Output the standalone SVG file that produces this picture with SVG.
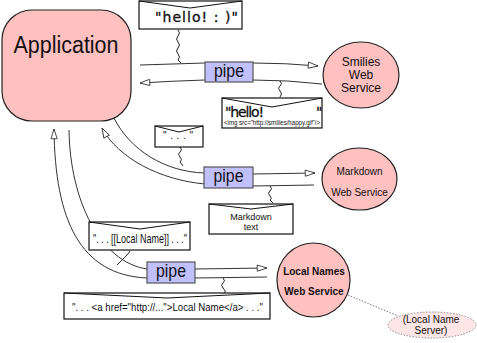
<svg xmlns="http://www.w3.org/2000/svg" width="477" height="343" viewBox="0 0 477 343">
  <style>
    .line { fill: none; stroke: #333; stroke-width: 1; }
    .wiggle { fill: none; stroke: #222; stroke-width: 1; }
    .node { fill: #ffc0c0; stroke: #222; stroke-width: 1.2; }
    .pipe rect { fill: #c0c0ff; stroke: #555; stroke-width: 1.2; }
    .pipe text { font-family: "Liberation Sans", Arial, sans-serif; font-size: 18px; fill: #111; text-anchor: middle; }
    .note rect { fill: #fff; stroke: #111; stroke-width: 1.2; }
    .note polyline { fill: none; stroke: #111; stroke-width: 1; }
    .big { font-family: "DejaVu Sans", sans-serif; font-size: 14px; fill: #111; stroke: #111; stroke-width: 0.3; }
    .small { font-family: "Liberation Sans", Arial, sans-serif; fill: #111; }
    .label { font-family: "Liberation Sans", Arial, sans-serif; fill: #111; text-anchor: middle; }
  </style>
  <defs>
    <marker id="open" markerUnits="userSpaceOnUse" markerWidth="12" markerHeight="8" refX="11" refY="3.5" orient="auto" viewBox="-1 -1 13 9">
      <path d="M0,0 L11,3.5 L0,7 z" fill="#fff" stroke="#333" stroke-width="1"/>
    </marker>
  </defs>

  <!-- connectors: each pipe is drawn as a pair of one-way lines -->
  <g id="connectors">
    <path class="line" d="M140,65 L205,63 L253,63 Q286,63 318,66" marker-end="url(#open)"/>
    <path class="line" d="M322,84 Q288,80 253,80 L205,80 Q172,81 140,83" marker-end="url(#open)"/>

    <path class="line" d="M114,118 C130,150 165,172 205,173 L253,174 L315,173" marker-end="url(#open)"/>
    <path class="line" d="M314,185 L253,186 L205,184 C160,180 118,158 102,128" marker-end="url(#open)"/>

    <path class="line" d="M69,130 C70,200 100,262 147,269 L195,269 L267,268" marker-end="url(#open)"/>
    <path class="line" d="M267,277 L195,278 L147,278 C80,275 55,220 54,129" marker-end="url(#open)"/>

    <path d="M348,295 L398,316" fill="none" stroke="#777" stroke-width="1" stroke-dasharray="1.5,1.5"/>

    <!-- wavy ties between messages and pipes -->
    <path class="wiggle" d="M178,30 q3,3 0,6 t0,6 t0,6 t0,6 t0,6 l3,3"/>
    <path class="wiggle" d="M280,81 q3,3 0,5 t0,5 t0,6"/>
    <path class="wiggle" d="M180,147 q3,3 0,5 t0,5 t0,5 l3,4"/>
    <path class="wiggle" d="M270,186 q3,3 0,5 t0,5 t0,4 l3,3"/>
    <path class="wiggle" d="M130,251 q-2,3 -4,5 t-3,3 t-3,3 l-3,3"/>
    <path class="wiggle" d="M223,278 q3,3 0,5 t0,5 t2,5"/>
  </g>

  <g id="application">
    <rect class="node" x="2" y="10" width="129" height="111" rx="30" ry="30"/>
    <text x="66" y="53" font-family="Liberation Sans, Arial, sans-serif" font-size="23" fill="#111" text-anchor="middle" textLength="105" lengthAdjust="spacingAndGlyphs">Application</text>
  </g>

  <g id="smilies">
    <ellipse class="node" cx="361" cy="75" rx="38" ry="33"/>
    <text class="label" font-size="12" x="361" y="66">Smilies</text>
    <text class="label" font-size="12" x="361" y="79">Web</text>
    <text class="label" font-size="12" x="361" y="92">Service</text>
  </g>

  <g id="markdown">
    <ellipse class="node" cx="359.5" cy="179" rx="37.5" ry="31"/>
    <text class="label" font-size="10" x="359.5" y="175">Markdown</text>
    <text class="label" font-size="10" x="359.5" y="196">Web Service</text>
  </g>

  <g id="localnames">
    <ellipse class="node" cx="313.5" cy="280" rx="36.5" ry="37"/>
    <text class="label" font-size="10" font-weight="bold" x="314" y="275">Local Names</text>
    <text class="label" font-size="10" font-weight="bold" x="314" y="295">Web Service</text>
  </g>

  <g id="localnameserver">
    <ellipse cx="432" cy="325" rx="44" ry="13" fill="#ffe6e6" stroke="#888" stroke-width="1" stroke-dasharray="1.5,1.5"/>
    <text class="label" font-size="10" x="431" y="323">(Local Name</text>
    <text class="label" font-size="10" x="431" y="334">Server)</text>
  </g>

  <g id="pipe1" class="pipe">
    <rect x="205" y="62" width="48" height="20"/>
    <text x="229" y="77" textLength="30" lengthAdjust="spacingAndGlyphs">pipe</text>
  </g>
  <g id="pipe2" class="pipe">
    <rect x="204" y="167" width="49" height="21"/>
    <text x="228.5" y="182" textLength="30" lengthAdjust="spacingAndGlyphs">pipe</text>
  </g>
  <g id="pipe3" class="pipe">
    <rect x="147" y="262" width="48" height="21"/>
    <text x="171" y="277" textLength="30" lengthAdjust="spacingAndGlyphs">pipe</text>
  </g>

  <g id="msg-hello" class="note">
    <rect x="139" y="1" width="103" height="28"/>
    <polyline points="139,1 190,8 242,1"/>
    <text class="big" x="155" y="22" textLength="83" lengthAdjust="spacing">"hello! : )"</text>
  </g>

  <g id="msg-hello-img" class="note">
    <rect x="222" y="98" width="100" height="30"/>
    <polyline points="222,98 272,107 322,98"/>
    <text class="big" x="225" y="117" textLength="39" lengthAdjust="spacing">"hello!</text>
    <text class="big" x="316" y="117">"</text>
    <text class="small" font-size="7" x="224" y="125" textLength="96" lengthAdjust="spacingAndGlyphs">&lt;img src="http://smilies/happy.gif"/&gt;</text>
  </g>

  <g id="msg-dots" class="note">
    <rect x="155" y="126" width="48" height="21"/>
    <polyline points="155,126 179,132 203,126"/>
    <text class="small" font-size="10" x="163" y="139" textLength="30" lengthAdjust="spacing">" . . . "</text>
  </g>

  <g id="msg-markdown" class="note">
    <rect x="209" y="204" width="84" height="30"/>
    <polyline points="209,204 251,209 293,204"/>
    <text class="label" font-size="9" x="251" y="220">Markdown</text>
    <text class="label" font-size="9" x="251" y="230">text</text>
  </g>

  <g id="msg-localname" class="note">
    <rect x="89" y="222" width="101" height="28"/>
    <polyline points="89,222 140,229 190,222"/>
    <text class="small" font-size="13" x="93" y="243" textLength="94" lengthAdjust="spacingAndGlyphs">". . . [[Local Name]] . . ."</text>
  </g>

  <g id="msg-link" class="note">
    <rect x="64" y="293" width="206" height="26"/>
    <polyline points="64,293 167,298 270,293"/>
    <text class="small" font-size="10" x="72" y="311" textLength="191" lengthAdjust="spacingAndGlyphs">". . . &lt;a href="http://..."&gt;Local Name&lt;/a&gt; . . ."</text>
  </g>
</svg>
